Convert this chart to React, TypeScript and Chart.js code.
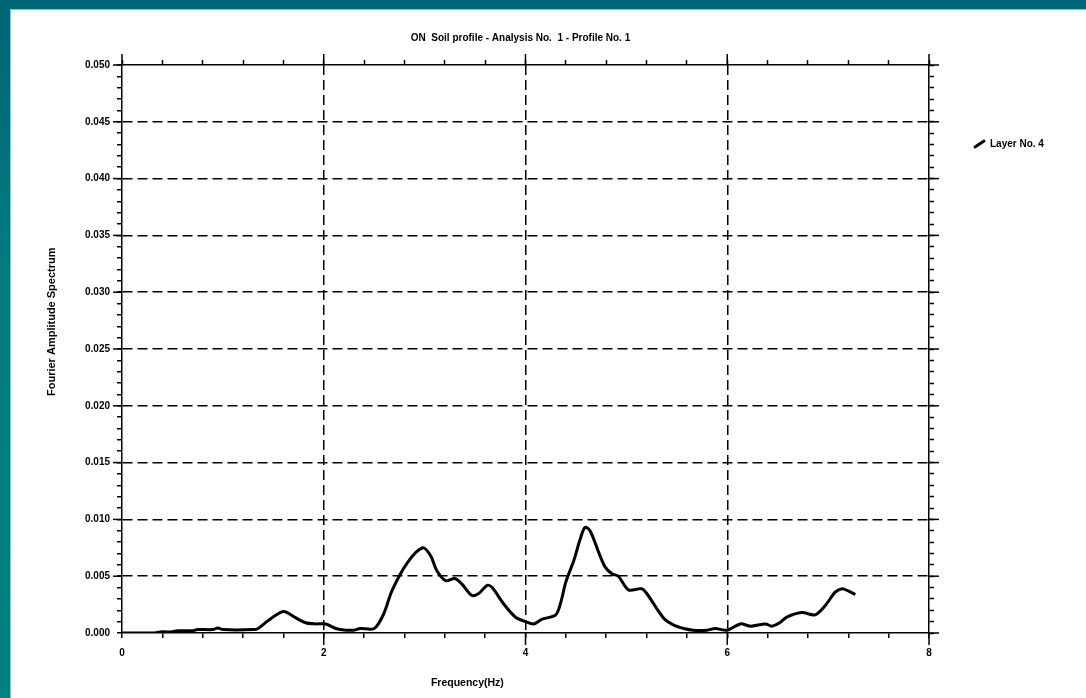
import React, { useEffect, useRef } from "react";
import { Chart, registerables } from "chart.js";

Chart.register(...registerables);

// ---- Data ----
const freq = [
  0.0, 0.3, 0.4, 0.5, 0.55, 0.7, 0.75, 0.9, 0.95, 1.0, 1.3, 1.35, 1.45, 1.6, 1.72, 1.82, 1.92, 2.02,
  2.12, 2.22, 2.3, 2.36, 2.5, 2.59, 2.68, 2.83, 2.98, 3.06, 3.12, 3.21, 3.3, 3.37, 3.47, 3.54, 3.62,
  3.67, 3.78, 3.9, 3.97, 4.08, 4.16, 4.3, 4.35, 4.4, 4.48, 4.54, 4.59, 4.64, 4.73, 4.79, 4.86, 4.92,
  5.02, 5.15, 5.2, 5.37, 5.47, 5.57, 5.66, 5.8, 5.88, 6.0, 6.13, 6.23, 6.38, 6.44, 6.52, 6.59, 6.74,
  6.87, 6.97, 7.07, 7.14, 7.2, 7.27,
];
const amp = [
  0.0, 0.0, 0.0001, 0.0001, 0.0002, 0.0002, 0.0003, 0.0003, 0.00045, 0.0003, 0.0003, 0.0004, 0.0011,
  0.0019, 0.00135, 0.0009, 0.0008, 0.0008, 0.0004, 0.00025, 0.00025, 0.0004, 0.0004, 0.0016, 0.0038,
  0.0062, 0.0075, 0.0068, 0.0055, 0.0046, 0.0048, 0.0043, 0.0033, 0.0035, 0.0042, 0.004, 0.0026,
  0.0014, 0.0011, 0.0008, 0.0012, 0.0016, 0.0027, 0.0045, 0.0064, 0.0082, 0.0093, 0.009, 0.007,
  0.0058, 0.0052, 0.005, 0.0038, 0.0039, 0.0035, 0.0013, 0.0007, 0.0004, 0.00025, 0.00025, 0.0004,
  0.00025, 0.0008, 0.0006, 0.0008, 0.0006, 0.0009, 0.0014, 0.0018, 0.0016, 0.0024, 0.0036, 0.0039,
  0.0037, 0.0034,
];

const xMin = 0;
const xMax = 8;
const xMinorStep = 0.4;
const xMajorStep = 2;
const yMin = 0;
const yMax = 0.05;
const yMinorStep = 0.001;
const yMajorStep = 0.005;

const chartTitle = "ON  Soil profile - Analysis No.  1 - Profile No. 1";
const xTitle = "Frequency(Hz)";
const yTitle = "Fourier Amplitude Spectrum";
const seriesName = "Layer No. 4";

const FONT_FAMILY = '"Liberation Sans", Arial, Helvetica, sans-serif';

const isMultiple = (v: number, step: number) => {
  const r = v / step;
  return Math.abs(r - Math.round(r)) < 1e-6;
};

const decoPlugin = {
  id: "deco",
  afterDraw(chart: any) {
    const { ctx, chartArea: ca, scales } = chart;
    const xs = scales.x;
    const ys = scales.y;
    ctx.save();
    ctx.strokeStyle = "#000";
    ctx.lineWidth = 1.5;
    const line = (x1: number, y1: number, x2: number, y2: number) => {
      ctx.beginPath();
      ctx.moveTo(x1, y1);
      ctx.lineTo(x2, y2);
      ctx.stroke();
    };
    // longer major tick marks
    xs.ticks.forEach((t: any) => {
      if (!isMultiple(t.value, xMajorStep)) return;
      const px = xs.getPixelForValue(t.value);
      if (t.value !== xMin) line(px, ca.bottom, px, ca.bottom + 12);
      line(px, ca.top, px, ca.top - 11);
    });
    ys.ticks.forEach((t: any) => {
      if (!isMultiple(t.value, yMajorStep)) return;
      const py = ys.getPixelForValue(t.value);
      if (t.value !== yMin) line(ca.left - 9, py, ca.left, py);
      line(ca.right, py, ca.right + 10, py);
    });

    ctx.fillStyle = "#000";
    ctx.textBaseline = "middle";
    // chart title
    ctx.font = `bold 10px ${FONT_FAMILY}`;
    ctx.textAlign = "center";
    ctx.fillText(chartTitle, (ca.left + ca.right) / 2 - 5, ca.top - 27);
    // x title
    ctx.font = `bold 10.5px ${FONT_FAMILY}`;
    ctx.fillText(xTitle, ca.left + (ca.right - ca.left) * 0.428, ca.bottom + 50);
    // y title
    ctx.save();
    ctx.translate(ca.left - 70, ca.top + (ca.bottom - ca.top) * 0.452);
    ctx.rotate(-Math.PI / 2);
    ctx.font = `bold 11px ${FONT_FAMILY}`;
    ctx.fillText(yTitle, 0, 0);
    ctx.restore();

    // legend
    const lx = ca.right + 45;
    const ly = ca.top + 79;
    ctx.lineWidth = 3;
    ctx.lineCap = "round";
    line(lx + 1, ly + 3, lx + 10, ly - 3);
    ctx.font = `bold 10px ${FONT_FAMILY}`;
    ctx.textAlign = "left";
    ctx.fillText(seriesName, lx + 16, ly);
    ctx.restore();
  },
};

export default function App() {
  const canvasRef = useRef<HTMLCanvasElement | null>(null);

  useEffect(() => {
    if (!canvasRef.current) return;
    const points = freq.map((f, i) => ({ x: f, y: amp[i] }));
    const tickFont = { family: FONT_FAMILY, size: 10, weight: "bold" as const };

    const chart = new Chart(canvasRef.current, {
      type: "line",
      data: {
        datasets: [
          {
            label: seriesName,
            data: points,
            borderColor: "#000",
            borderWidth: 3,
            pointRadius: 0,
            tension: 0.3,
            borderJoinStyle: "round",
            fill: false,
            xAxisID: "x",
            yAxisID: "y",
          },
        ],
      },
      options: {
        animation: false,
        responsive: false,
        layout: { padding: { left: 62, right: 147, top: 55, bottom: 25 } },
        plugins: {
          legend: { display: false },
          title: { display: false },
          tooltip: { enabled: false },
        },
        scales: {
          x: {
            type: "linear",
            position: "bottom",
            min: xMin,
            max: xMax,
            afterFit: (s: any) => {
              s.height = 40;
            },
            ticks: {
              stepSize: xMinorStep,
              autoSkip: false,
              maxRotation: 0,
              padding: 9,
              color: "#000",
              font: tickFont,
              callback: (v: any) => (isMultiple(Number(v), xMajorStep) ? String(Math.round(Number(v))) : ""),
            },
            grid: {
              drawTicks: true,
              tickLength: 5,
              tickWidth: 1.5,
              tickColor: "#000",
              lineWidth: 1.5,
              color: (c: any) => {
                const v = c.tick ? c.tick.value : 0;
                return isMultiple(v, xMajorStep) && v !== xMin && v !== xMax ? "#000" : "rgba(0,0,0,0)";
              },
            },
            border: { display: true, color: "#000", width: 1.5, dash: [10, 5] },
          },
          x2: {
            type: "linear",
            position: "top",
            min: xMin,
            max: xMax,
            afterFit: (s: any) => {
              s.height = 10;
            },
            ticks: { stepSize: xMinorStep, autoSkip: false, display: false },
            grid: {
              drawOnChartArea: false,
              drawTicks: true,
              tickLength: 5,
              tickWidth: 1.5,
              tickColor: "#000",
            },
            border: { display: true, color: "#000", width: 1.5 },
          },
          y: {
            type: "linear",
            position: "left",
            min: yMin,
            max: yMax,
            afterFit: (s: any) => {
              s.width = 60;
            },
            ticks: {
              stepSize: yMinorStep,
              autoSkip: false,
              padding: 7,
              color: "#000",
              font: tickFont,
              callback: (v: any) => {
                const k = Math.round(Number(v) * 1000);
                return k % 5 === 0 ? (k / 1000).toFixed(3) : "";
              },
            },
            grid: {
              drawTicks: true,
              tickLength: 5,
              tickWidth: 1.5,
              tickColor: "#000",
              lineWidth: 1.5,
              color: (c: any) => {
                const v = c.tick ? c.tick.value : 0;
                return isMultiple(v, yMajorStep) && v > yMin + 1e-9 && v < yMax - 1e-9 ? "#000" : "rgba(0,0,0,0)";
              },
            },
            border: { display: true, color: "#000", width: 1.5, dash: [10, 5] },
          },
          y2: {
            type: "linear",
            position: "right",
            min: yMin,
            max: yMax,
            afterFit: (s: any) => {
              s.width = 10;
            },
            ticks: { stepSize: yMinorStep, autoSkip: false, display: false },
            grid: {
              drawOnChartArea: false,
              drawTicks: true,
              tickLength: 5,
              tickWidth: 1.5,
              tickColor: "#000",
            },
            border: { display: true, color: "#000", width: 1.5 },
          },
        },
      } as any,
      plugins: [decoPlugin],
    });
    return () => chart.destroy();
  }, []);

  return (
    <div
      style={{
        position: "absolute",
        left: 0,
        top: 0,
        width: 1086,
        height: 698,
        overflow: "hidden",
        background: "linear-gradient(to bottom, #006476 0%, #007a80 35%, #008280 100%)",
      }}
    >
      <div
        style={{
          position: "absolute",
          left: 10,
          top: 9,
          right: 0,
          bottom: 0,
          background: "#fff",
          borderLeft: "1px solid #8cc6cc",
          borderTop: "1px solid #8cc6cc",
        }}
      />
      <canvas
        ref={canvasRef}
        width={1086}
        height={698}
        style={{ position: "absolute", left: 0, top: 0, width: 1086, height: 698, display: "block" }}
      />
    </div>
  );
}
